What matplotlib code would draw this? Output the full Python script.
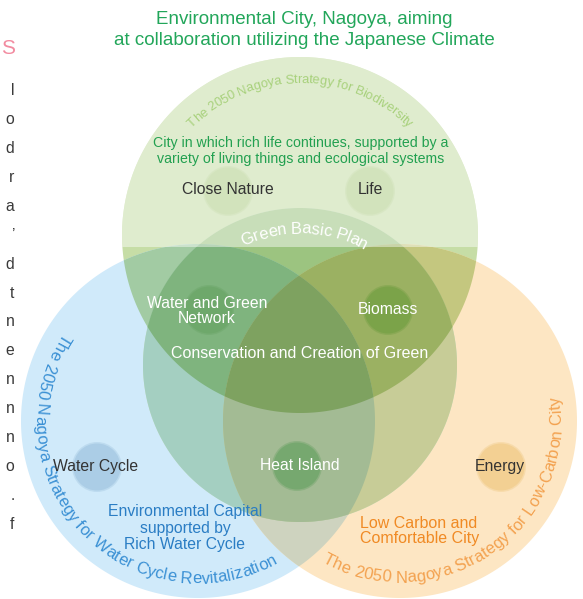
import itertools

import numpy as np
import matplotlib
matplotlib.use("Agg")
import matplotlib.pyplot as plt
from matplotlib.patches import Circle, Polygon, Rectangle
from matplotlib.font_manager import FontProperties, findfont, get_font

# ---- chart content -------------------------------------------------------
title_lines = ["Environmental City, Nagoya, aiming",
               "at collaboration utilizing the Japanese Climate"]

strategy_names = ["The 2050 Nagoya Strategy for Biodiversity",
                  "The 2050 Nagoya Strategy for Water Cycle Revitalization",
                  "The 2050 Nagoya Strategy for Low-Carbon City",
                  "Green Basic Plan"]

strategy_goals = ["City in which rich life continues, supported by a\n"
                  "variety of living things and ecological systems",
                  "Environmental Capital\nsupported by\nRich Water Cycle",
                  "Low Carbon and\nComfortable City",
                  "Conservation and Creation of Green"]

themes = ["Close Nature", "Life", "Water and Green\nNetwork", "Biomass",
          "Heat Island", "Water Cycle", "Energy"]

# cut-off line endings of the neighbouring text column
margin_heading = "S"
margin_fragments = ["l", "o", "d", "r", "a", "\u2019", "d", "t",
                    "n", "e", "n", "n", "n", "o", ".", "f"]

# ---- layout (pixel coordinates, y down) ----------------------------------
W, H = 583, 599
venn = {
    "bio":   dict(center=(300, 235), r=178, tint="#c6dda6"),
    "water": dict(center=(198, 421), r=177, tint="#d0eafa"),
    "low":   dict(center=(400, 421), r=177, tint="#fde6c3"),
    "green": dict(center=(300, 365), r=157, tint="#c9e2c5"),
}
fade_line = 247          # the top of the biodiversity circle is washed out above this

theme_pos = [(228, 191), (370, 191), (209, 310), (388, 310),
             (297, 466), (97, 467), (501, 467)]
theme_dot = ["#d2e3bc", "#d2e3bc", "#6ea86b", "#7ba349",
             "#76a86f", "#abcde6", "#f3d093"]
theme_txt = ["#333333", "#333333", "white", "white", "white", "#333333", "#333333"]

SANS = ["Liberation Sans", "DejaVu Sans"]

fig = plt.figure(figsize=(W / 100, H / 100), dpi=100)
ax = fig.add_axes([0, 0, 1, 1])
ax.set_xlim(0, W)
ax.set_ylim(H, 0)
ax.set_aspect("equal")
ax.axis("off")


def boundary(c, n=1440):
    t = np.linspace(0, 2 * np.pi, n, endpoint=False)
    cx, cy = c["center"]
    return np.column_stack([cx + c["r"] * np.cos(t), cy + c["r"] * np.sin(t)])


def lens(keys):
    """Convex intersection of several circles as a polygon."""
    pts = []
    for k in keys:
        p = boundary(venn[k])
        ok = np.ones(len(p), bool)
        for o in keys:
            if o != k:
                d = np.hypot(p[:, 0] - venn[o]["center"][0], p[:, 1] - venn[o]["center"][1])
                ok &= d <= venn[o]["r"]
        pts.append(p[ok])
    pts = np.vstack(pts)
    if len(pts) < 3:
        return None
    m = pts.mean(axis=0)
    return pts[np.argsort(np.arctan2(pts[:, 1] - m[1], pts[:, 0] - m[0]))]


# overlapping areas behave like multiplied tints
names = list(venn)
for k in range(1, len(names) + 1):
    for keys in itertools.combinations(names, k):
        poly = lens(keys)
        if poly is None:
            continue
        col = np.ones(3)
        for key in keys:
            col *= np.array(matplotlib.colors.to_rgb(venn[key]["tint"]))
        ax.add_patch(Polygon(poly, closed=True, fc=col, ec="none", zorder=1))

clip = Circle(venn["bio"]["center"], venn["bio"]["r"], transform=ax.transData)
wash = Rectangle((0, 0), W, fade_line, fc="white", ec="none", alpha=0.45, zorder=2)
ax.add_patch(wash)
wash.set_clip_path(clip)

for (x, y), dot in zip(theme_pos, theme_dot):
    ax.add_patch(Circle((x, y), 25, fc=dot, ec="none", alpha=0.5, zorder=3))
    ax.add_patch(Circle((x, y), 23.5, fc=dot, ec="none", zorder=3))


def arc_text(text, c, radius, mid_deg, size, color, clockwise, tracking=0.0):
    prop = FontProperties(family=SANS, size=size)
    font = get_font(findfont(prop))
    font.set_size(size, fig.dpi)
    adv = np.array([font.load_char(ord(ch)).linearHoriAdvance / 65536 for ch in text]) + tracking
    offs = np.cumsum(adv) - adv / 2 - adv.sum() / 2
    sign = -1 if clockwise else 1
    cx, cy = c
    for ch, s in zip(text, offs):
        th = np.deg2rad(mid_deg) + sign * s / radius
        rot = np.rad2deg(th) + (-90 if clockwise else 90)
        ax.text(cx + radius * np.cos(th), cy - radius * np.sin(th), ch,
                rotation=rot, rotation_mode="anchor", ha="center", va="center",
                fontproperties=prop, color=color, zorder=5)


arc_text(strategy_names[0], venn["bio"]["center"], 155, 90, 9.4, "#a8d17c", True)
arc_text(strategy_names[1], venn["water"]["center"], 158, 223, 12, "#3a90d4", False)
arc_text(strategy_names[2], venn["low"]["center"], 157, 305, 12, "#f3a250", False)
arc_text(strategy_names[3], venn["green"]["center"], 136, 88, 12, "white", True)

# title and goals
ax.text(304, 30, "\n".join(title_lines), ha="center", va="center", fontsize=13.5,
        family=SANS, color="#22a65a", linespacing=1.28, zorder=5)
ax.text(301, 151, strategy_goals[0], ha="center", va="center", fontsize=10.2,
        family=SANS, color="#22a050", linespacing=1.25, zorder=5)
ax.text(185, 528, strategy_goals[1], ha="center", va="center", fontsize=11.3,
        family=SANS, color="#2a7dc4", linespacing=1.12, zorder=5)
ax.text(360, 531, strategy_goals[2], ha="left", va="center", fontsize=11.5,
        family=SANS, color="#f08a24", linespacing=1.05, zorder=5)
ax.text(300, 353, strategy_goals[3], ha="center", va="center", fontsize=11.5,
        family=SANS, color="white", zorder=5)

label_pos = [(228, 190), (370, 190), (207, 311), (388, 310), (300, 466), (96, 467), (500, 467)]
for name, (x, y), col in zip(themes, label_pos, theme_txt):
    ax.text(x, y, name, ha="center", va="center", fontsize=11.3, family=SANS,
            color=col, linespacing=1.0, zorder=5)

# clipped neighbouring column
ax.text(1, 48, margin_heading, ha="left", va="center", fontsize=15, family=SANS,
        color="#f28ba0", zorder=5)
for ch, y in zip(margin_fragments, np.linspace(95, 529, len(margin_fragments))):
    ax.text(14.5, y, ch, ha="right", va="baseline", fontsize=11.3, family=SANS,
            color="#3a3a3a", zorder=5)

fig.savefig("out.png", dpi=100)
